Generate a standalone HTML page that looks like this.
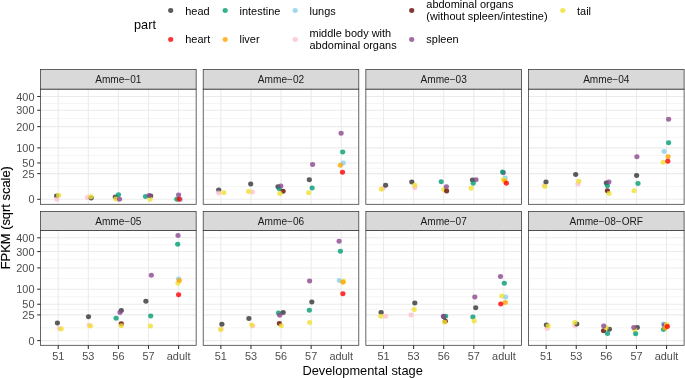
<!DOCTYPE html>
<html><head><meta charset="utf-8"><title>chart</title>
<style>html,body{margin:0;padding:0;background:#fff;}svg{display:block;}text{font-family:"Liberation Sans",sans-serif;}</style>
</head><body>
<svg width="685" height="378" viewBox="0 0 685 378">
<rect width="685" height="378" fill="#fff"/>
<g opacity="0.999">
<g>
<rect x="40.55" y="89.10" width="155.60" height="115.20" fill="#fff"/>
<line x1="40.55" x2="196.15" y1="186.45" y2="186.45" stroke="#ebebeb" stroke-width="0.55"/>
<line x1="40.55" x2="196.15" y1="168.28" y2="168.28" stroke="#ebebeb" stroke-width="0.55"/>
<line x1="40.55" x2="196.15" y1="155.43" y2="155.43" stroke="#ebebeb" stroke-width="0.55"/>
<line x1="40.55" x2="196.15" y1="137.25" y2="137.25" stroke="#ebebeb" stroke-width="0.55"/>
<line x1="40.55" x2="196.15" y1="118.44" y2="118.44" stroke="#ebebeb" stroke-width="0.55"/>
<line x1="40.55" x2="196.15" y1="103.39" y2="103.39" stroke="#ebebeb" stroke-width="0.55"/>
<line x1="40.55" x2="196.15" y1="199.30" y2="199.30" stroke="#ebebeb" stroke-width="1.07"/>
<line x1="40.55" x2="196.15" y1="173.60" y2="173.60" stroke="#ebebeb" stroke-width="1.07"/>
<line x1="40.55" x2="196.15" y1="162.95" y2="162.95" stroke="#ebebeb" stroke-width="1.07"/>
<line x1="40.55" x2="196.15" y1="147.90" y2="147.90" stroke="#ebebeb" stroke-width="1.07"/>
<line x1="40.55" x2="196.15" y1="126.61" y2="126.61" stroke="#ebebeb" stroke-width="1.07"/>
<line x1="40.55" x2="196.15" y1="110.27" y2="110.27" stroke="#ebebeb" stroke-width="1.07"/>
<line x1="40.55" x2="196.15" y1="96.50" y2="96.50" stroke="#ebebeb" stroke-width="1.07"/>
<line x1="58.20" x2="58.20" y1="89.10" y2="204.30" stroke="#ebebeb" stroke-width="1.07"/>
<line x1="88.30" x2="88.30" y1="89.10" y2="204.30" stroke="#ebebeb" stroke-width="1.07"/>
<line x1="118.40" x2="118.40" y1="89.10" y2="204.30" stroke="#ebebeb" stroke-width="1.07"/>
<line x1="148.50" x2="148.50" y1="89.10" y2="204.30" stroke="#ebebeb" stroke-width="1.07"/>
<line x1="178.60" x2="178.60" y1="89.10" y2="204.30" stroke="#ebebeb" stroke-width="1.07"/>
<ellipse cx="56.6" cy="196.1" rx="2.6" ry="2.48" fill="#333333" fill-opacity="0.8"/>
<ellipse cx="56.9" cy="199.3" rx="2.6" ry="2.48" fill="#FFC0CB" fill-opacity="0.8"/>
<ellipse cx="58.6" cy="195.3" rx="2.6" ry="2.48" fill="#F0E030" fill-opacity="0.8"/>
<ellipse cx="87.5" cy="197.4" rx="2.6" ry="2.48" fill="#FFC0CB" fill-opacity="0.8"/>
<ellipse cx="91.2" cy="198.0" rx="2.6" ry="2.48" fill="#333333" fill-opacity="0.8"/>
<ellipse cx="90.9" cy="196.8" rx="2.6" ry="2.48" fill="#F0E030" fill-opacity="0.8"/>
<ellipse cx="115.3" cy="197.1" rx="2.6" ry="2.48" fill="#333333" fill-opacity="0.8"/>
<ellipse cx="118.5" cy="194.7" rx="2.6" ry="2.48" fill="#009E73" fill-opacity="0.8"/>
<ellipse cx="115.9" cy="198.9" rx="2.6" ry="2.48" fill="#F0E030" fill-opacity="0.8"/>
<ellipse cx="119.5" cy="199.2" rx="2.6" ry="2.48" fill="#8B478F" fill-opacity="0.8"/>
<ellipse cx="150.7" cy="196.0" rx="2.6" ry="2.48" fill="#333333" fill-opacity="0.8"/>
<ellipse cx="145.5" cy="196.4" rx="2.6" ry="2.48" fill="#009E73" fill-opacity="0.8"/>
<ellipse cx="150.1" cy="199.3" rx="2.6" ry="2.48" fill="#F0E030" fill-opacity="0.8"/>
<ellipse cx="149.2" cy="195.4" rx="2.6" ry="2.48" fill="#8B478F" fill-opacity="0.8"/>
<ellipse cx="180.4" cy="199.4" rx="2.6" ry="2.48" fill="#87CEEB" fill-opacity="0.8"/>
<ellipse cx="178.6" cy="195.0" rx="2.6" ry="2.48" fill="#8B478F" fill-opacity="0.8"/>
<ellipse cx="176.8" cy="199.2" rx="2.6" ry="2.48" fill="#009E73" fill-opacity="0.8"/>
<ellipse cx="179.3" cy="199.2" rx="2.6" ry="2.48" fill="#FF0000" fill-opacity="0.8"/>
<rect x="40.55" y="89.10" width="155.60" height="115.20" fill="none" stroke="#333" stroke-width="0.75"/>
<rect x="40.55" y="69.60" width="155.60" height="19.50" fill="#d9d9d9" stroke="#333" stroke-width="0.75"/>
<text x="118.35" y="82.95" font-size="10.1" fill="#1a1a1a" text-anchor="middle">Amme−01</text>
<line x1="37.25" x2="40.55" y1="199.30" y2="199.30" stroke="#333" stroke-width="1.07"/>
<text transform="translate(34.45,203.30) scale(1.07,1)" font-size="10.2" fill="#4d4d4d" text-anchor="end">0</text>
<line x1="37.25" x2="40.55" y1="173.60" y2="173.60" stroke="#333" stroke-width="1.07"/>
<text transform="translate(34.45,177.60) scale(1.07,1)" font-size="10.2" fill="#4d4d4d" text-anchor="end">25</text>
<line x1="37.25" x2="40.55" y1="162.95" y2="162.95" stroke="#333" stroke-width="1.07"/>
<text transform="translate(34.45,166.95) scale(1.07,1)" font-size="10.2" fill="#4d4d4d" text-anchor="end">50</text>
<line x1="37.25" x2="40.55" y1="147.90" y2="147.90" stroke="#333" stroke-width="1.07"/>
<text transform="translate(34.45,151.90) scale(1.07,1)" font-size="10.2" fill="#4d4d4d" text-anchor="end">100</text>
<line x1="37.25" x2="40.55" y1="126.61" y2="126.61" stroke="#333" stroke-width="1.07"/>
<text transform="translate(34.45,130.61) scale(1.07,1)" font-size="10.2" fill="#4d4d4d" text-anchor="end">200</text>
<line x1="37.25" x2="40.55" y1="110.27" y2="110.27" stroke="#333" stroke-width="1.07"/>
<text transform="translate(34.45,114.27) scale(1.07,1)" font-size="10.2" fill="#4d4d4d" text-anchor="end">300</text>
<line x1="37.25" x2="40.55" y1="96.50" y2="96.50" stroke="#333" stroke-width="1.07"/>
<text transform="translate(34.45,100.50) scale(1.07,1)" font-size="10.2" fill="#4d4d4d" text-anchor="end">400</text>
</g>
<g>
<rect x="203.20" y="89.10" width="155.60" height="115.20" fill="#fff"/>
<line x1="203.20" x2="358.80" y1="186.45" y2="186.45" stroke="#ebebeb" stroke-width="0.55"/>
<line x1="203.20" x2="358.80" y1="168.28" y2="168.28" stroke="#ebebeb" stroke-width="0.55"/>
<line x1="203.20" x2="358.80" y1="155.43" y2="155.43" stroke="#ebebeb" stroke-width="0.55"/>
<line x1="203.20" x2="358.80" y1="137.25" y2="137.25" stroke="#ebebeb" stroke-width="0.55"/>
<line x1="203.20" x2="358.80" y1="118.44" y2="118.44" stroke="#ebebeb" stroke-width="0.55"/>
<line x1="203.20" x2="358.80" y1="103.39" y2="103.39" stroke="#ebebeb" stroke-width="0.55"/>
<line x1="203.20" x2="358.80" y1="199.30" y2="199.30" stroke="#ebebeb" stroke-width="1.07"/>
<line x1="203.20" x2="358.80" y1="173.60" y2="173.60" stroke="#ebebeb" stroke-width="1.07"/>
<line x1="203.20" x2="358.80" y1="162.95" y2="162.95" stroke="#ebebeb" stroke-width="1.07"/>
<line x1="203.20" x2="358.80" y1="147.90" y2="147.90" stroke="#ebebeb" stroke-width="1.07"/>
<line x1="203.20" x2="358.80" y1="126.61" y2="126.61" stroke="#ebebeb" stroke-width="1.07"/>
<line x1="203.20" x2="358.80" y1="110.27" y2="110.27" stroke="#ebebeb" stroke-width="1.07"/>
<line x1="203.20" x2="358.80" y1="96.50" y2="96.50" stroke="#ebebeb" stroke-width="1.07"/>
<line x1="220.85" x2="220.85" y1="89.10" y2="204.30" stroke="#ebebeb" stroke-width="1.07"/>
<line x1="250.95" x2="250.95" y1="89.10" y2="204.30" stroke="#ebebeb" stroke-width="1.07"/>
<line x1="281.05" x2="281.05" y1="89.10" y2="204.30" stroke="#ebebeb" stroke-width="1.07"/>
<line x1="311.15" x2="311.15" y1="89.10" y2="204.30" stroke="#ebebeb" stroke-width="1.07"/>
<line x1="341.25" x2="341.25" y1="89.10" y2="204.30" stroke="#ebebeb" stroke-width="1.07"/>
<ellipse cx="218.7" cy="189.9" rx="2.6" ry="2.48" fill="#333333" fill-opacity="0.8"/>
<ellipse cx="218.7" cy="192.9" rx="2.6" ry="2.48" fill="#FFC0CB" fill-opacity="0.8"/>
<ellipse cx="223.8" cy="192.7" rx="2.6" ry="2.48" fill="#F0E030" fill-opacity="0.8"/>
<ellipse cx="252.3" cy="192.0" rx="2.6" ry="2.48" fill="#FFC0CB" fill-opacity="0.8"/>
<ellipse cx="250.7" cy="184.0" rx="2.6" ry="2.48" fill="#333333" fill-opacity="0.8"/>
<ellipse cx="248.6" cy="191.5" rx="2.6" ry="2.48" fill="#F0E030" fill-opacity="0.8"/>
<ellipse cx="278.0" cy="186.8" rx="2.6" ry="2.48" fill="#333333" fill-opacity="0.8"/>
<ellipse cx="279.2" cy="188.7" rx="2.6" ry="2.48" fill="#009E73" fill-opacity="0.8"/>
<ellipse cx="280.8" cy="186.1" rx="2.6" ry="2.48" fill="#8B478F" fill-opacity="0.8"/>
<ellipse cx="283.1" cy="191.3" rx="2.6" ry="2.48" fill="#640800" fill-opacity="0.8"/>
<ellipse cx="279.9" cy="193.6" rx="2.6" ry="2.48" fill="#F0E030" fill-opacity="0.8"/>
<ellipse cx="312.6" cy="164.4" rx="2.6" ry="2.48" fill="#8B478F" fill-opacity="0.8"/>
<ellipse cx="309.3" cy="179.8" rx="2.6" ry="2.48" fill="#333333" fill-opacity="0.8"/>
<ellipse cx="312.1" cy="188.0" rx="2.6" ry="2.48" fill="#009E73" fill-opacity="0.8"/>
<ellipse cx="308.6" cy="192.7" rx="2.6" ry="2.48" fill="#F0E030" fill-opacity="0.8"/>
<ellipse cx="341.1" cy="133.3" rx="2.6" ry="2.48" fill="#8B478F" fill-opacity="0.8"/>
<ellipse cx="342.7" cy="152.0" rx="2.6" ry="2.48" fill="#009E73" fill-opacity="0.8"/>
<ellipse cx="343.2" cy="163.0" rx="2.6" ry="2.48" fill="#87CEEB" fill-opacity="0.8"/>
<ellipse cx="340.4" cy="165.3" rx="2.6" ry="2.48" fill="#FFA500" fill-opacity="0.8"/>
<ellipse cx="342.5" cy="172.3" rx="2.6" ry="2.48" fill="#FF0000" fill-opacity="0.8"/>
<rect x="203.20" y="89.10" width="155.60" height="115.20" fill="none" stroke="#333" stroke-width="0.75"/>
<rect x="203.20" y="69.60" width="155.60" height="19.50" fill="#d9d9d9" stroke="#333" stroke-width="0.75"/>
<text x="281.00" y="82.95" font-size="10.1" fill="#1a1a1a" text-anchor="middle">Amme−02</text>
</g>
<g>
<rect x="365.85" y="89.10" width="155.60" height="115.20" fill="#fff"/>
<line x1="365.85" x2="521.45" y1="186.45" y2="186.45" stroke="#ebebeb" stroke-width="0.55"/>
<line x1="365.85" x2="521.45" y1="168.28" y2="168.28" stroke="#ebebeb" stroke-width="0.55"/>
<line x1="365.85" x2="521.45" y1="155.43" y2="155.43" stroke="#ebebeb" stroke-width="0.55"/>
<line x1="365.85" x2="521.45" y1="137.25" y2="137.25" stroke="#ebebeb" stroke-width="0.55"/>
<line x1="365.85" x2="521.45" y1="118.44" y2="118.44" stroke="#ebebeb" stroke-width="0.55"/>
<line x1="365.85" x2="521.45" y1="103.39" y2="103.39" stroke="#ebebeb" stroke-width="0.55"/>
<line x1="365.85" x2="521.45" y1="199.30" y2="199.30" stroke="#ebebeb" stroke-width="1.07"/>
<line x1="365.85" x2="521.45" y1="173.60" y2="173.60" stroke="#ebebeb" stroke-width="1.07"/>
<line x1="365.85" x2="521.45" y1="162.95" y2="162.95" stroke="#ebebeb" stroke-width="1.07"/>
<line x1="365.85" x2="521.45" y1="147.90" y2="147.90" stroke="#ebebeb" stroke-width="1.07"/>
<line x1="365.85" x2="521.45" y1="126.61" y2="126.61" stroke="#ebebeb" stroke-width="1.07"/>
<line x1="365.85" x2="521.45" y1="110.27" y2="110.27" stroke="#ebebeb" stroke-width="1.07"/>
<line x1="365.85" x2="521.45" y1="96.50" y2="96.50" stroke="#ebebeb" stroke-width="1.07"/>
<line x1="383.50" x2="383.50" y1="89.10" y2="204.30" stroke="#ebebeb" stroke-width="1.07"/>
<line x1="413.60" x2="413.60" y1="89.10" y2="204.30" stroke="#ebebeb" stroke-width="1.07"/>
<line x1="443.70" x2="443.70" y1="89.10" y2="204.30" stroke="#ebebeb" stroke-width="1.07"/>
<line x1="473.80" x2="473.80" y1="89.10" y2="204.30" stroke="#ebebeb" stroke-width="1.07"/>
<line x1="503.90" x2="503.90" y1="89.10" y2="204.30" stroke="#ebebeb" stroke-width="1.07"/>
<ellipse cx="383.3" cy="188.2" rx="2.6" ry="2.48" fill="#FFC0CB" fill-opacity="0.8"/>
<ellipse cx="385.6" cy="185.2" rx="2.6" ry="2.48" fill="#333333" fill-opacity="0.8"/>
<ellipse cx="381.4" cy="189.2" rx="2.6" ry="2.48" fill="#F0E030" fill-opacity="0.8"/>
<ellipse cx="414.8" cy="187.8" rx="2.6" ry="2.48" fill="#FFC0CB" fill-opacity="0.8"/>
<ellipse cx="411.8" cy="181.9" rx="2.6" ry="2.48" fill="#333333" fill-opacity="0.8"/>
<ellipse cx="414.8" cy="185.2" rx="2.6" ry="2.48" fill="#F0E030" fill-opacity="0.8"/>
<ellipse cx="441.2" cy="181.7" rx="2.6" ry="2.48" fill="#009E73" fill-opacity="0.8"/>
<ellipse cx="443.8" cy="189.4" rx="2.6" ry="2.48" fill="#F0E030" fill-opacity="0.8"/>
<ellipse cx="446.6" cy="191.0" rx="2.6" ry="2.48" fill="#640800" fill-opacity="0.8"/>
<ellipse cx="446.4" cy="186.8" rx="2.6" ry="2.48" fill="#8B478F" fill-opacity="0.8"/>
<ellipse cx="472.5" cy="180.0" rx="2.6" ry="2.48" fill="#333333" fill-opacity="0.8"/>
<ellipse cx="476.0" cy="179.8" rx="2.6" ry="2.48" fill="#8B478F" fill-opacity="0.8"/>
<ellipse cx="473.2" cy="183.3" rx="2.6" ry="2.48" fill="#009E73" fill-opacity="0.8"/>
<ellipse cx="471.1" cy="188.2" rx="2.6" ry="2.48" fill="#F0E030" fill-opacity="0.8"/>
<ellipse cx="503.3" cy="172.8" rx="2.6" ry="2.48" fill="#8B478F" fill-opacity="0.8"/>
<ellipse cx="502.6" cy="171.9" rx="2.6" ry="2.48" fill="#009E73" fill-opacity="0.8"/>
<ellipse cx="505.2" cy="178.1" rx="2.6" ry="2.48" fill="#87CEEB" fill-opacity="0.8"/>
<ellipse cx="503.3" cy="179.4" rx="2.6" ry="2.48" fill="#F0E030" fill-opacity="0.8"/>
<ellipse cx="504.9" cy="181.3" rx="2.6" ry="2.48" fill="#FFA500" fill-opacity="0.8"/>
<ellipse cx="506.4" cy="183.3" rx="2.6" ry="2.48" fill="#FF0000" fill-opacity="0.8"/>
<rect x="365.85" y="89.10" width="155.60" height="115.20" fill="none" stroke="#333" stroke-width="0.75"/>
<rect x="365.85" y="69.60" width="155.60" height="19.50" fill="#d9d9d9" stroke="#333" stroke-width="0.75"/>
<text x="443.65" y="82.95" font-size="10.1" fill="#1a1a1a" text-anchor="middle">Amme−03</text>
</g>
<g>
<rect x="528.50" y="89.10" width="155.60" height="115.20" fill="#fff"/>
<line x1="528.50" x2="684.10" y1="186.45" y2="186.45" stroke="#ebebeb" stroke-width="0.55"/>
<line x1="528.50" x2="684.10" y1="168.28" y2="168.28" stroke="#ebebeb" stroke-width="0.55"/>
<line x1="528.50" x2="684.10" y1="155.43" y2="155.43" stroke="#ebebeb" stroke-width="0.55"/>
<line x1="528.50" x2="684.10" y1="137.25" y2="137.25" stroke="#ebebeb" stroke-width="0.55"/>
<line x1="528.50" x2="684.10" y1="118.44" y2="118.44" stroke="#ebebeb" stroke-width="0.55"/>
<line x1="528.50" x2="684.10" y1="103.39" y2="103.39" stroke="#ebebeb" stroke-width="0.55"/>
<line x1="528.50" x2="684.10" y1="199.30" y2="199.30" stroke="#ebebeb" stroke-width="1.07"/>
<line x1="528.50" x2="684.10" y1="173.60" y2="173.60" stroke="#ebebeb" stroke-width="1.07"/>
<line x1="528.50" x2="684.10" y1="162.95" y2="162.95" stroke="#ebebeb" stroke-width="1.07"/>
<line x1="528.50" x2="684.10" y1="147.90" y2="147.90" stroke="#ebebeb" stroke-width="1.07"/>
<line x1="528.50" x2="684.10" y1="126.61" y2="126.61" stroke="#ebebeb" stroke-width="1.07"/>
<line x1="528.50" x2="684.10" y1="110.27" y2="110.27" stroke="#ebebeb" stroke-width="1.07"/>
<line x1="528.50" x2="684.10" y1="96.50" y2="96.50" stroke="#ebebeb" stroke-width="1.07"/>
<line x1="546.15" x2="546.15" y1="89.10" y2="204.30" stroke="#ebebeb" stroke-width="1.07"/>
<line x1="576.25" x2="576.25" y1="89.10" y2="204.30" stroke="#ebebeb" stroke-width="1.07"/>
<line x1="606.35" x2="606.35" y1="89.10" y2="204.30" stroke="#ebebeb" stroke-width="1.07"/>
<line x1="636.45" x2="636.45" y1="89.10" y2="204.30" stroke="#ebebeb" stroke-width="1.07"/>
<line x1="666.55" x2="666.55" y1="89.10" y2="204.30" stroke="#ebebeb" stroke-width="1.07"/>
<ellipse cx="544.4" cy="185.2" rx="2.6" ry="2.48" fill="#FFC0CB" fill-opacity="0.8"/>
<ellipse cx="546.0" cy="181.9" rx="2.6" ry="2.48" fill="#333333" fill-opacity="0.8"/>
<ellipse cx="544.8" cy="186.4" rx="2.6" ry="2.48" fill="#F0E030" fill-opacity="0.8"/>
<ellipse cx="578.0" cy="184.1" rx="2.6" ry="2.48" fill="#FFC0CB" fill-opacity="0.8"/>
<ellipse cx="575.7" cy="174.5" rx="2.6" ry="2.48" fill="#333333" fill-opacity="0.8"/>
<ellipse cx="578.8" cy="181.3" rx="2.6" ry="2.48" fill="#F0E030" fill-opacity="0.8"/>
<ellipse cx="606.3" cy="183.0" rx="2.6" ry="2.48" fill="#333333" fill-opacity="0.8"/>
<ellipse cx="607.4" cy="185.8" rx="2.6" ry="2.48" fill="#009E73" fill-opacity="0.8"/>
<ellipse cx="608.9" cy="181.9" rx="2.6" ry="2.48" fill="#8B478F" fill-opacity="0.8"/>
<ellipse cx="607.4" cy="190.7" rx="2.6" ry="2.48" fill="#640800" fill-opacity="0.8"/>
<ellipse cx="609.1" cy="193.5" rx="2.6" ry="2.48" fill="#F0E030" fill-opacity="0.8"/>
<ellipse cx="636.9" cy="156.7" rx="2.6" ry="2.48" fill="#8B478F" fill-opacity="0.8"/>
<ellipse cx="636.6" cy="175.4" rx="2.6" ry="2.48" fill="#333333" fill-opacity="0.8"/>
<ellipse cx="638.0" cy="183.6" rx="2.6" ry="2.48" fill="#009E73" fill-opacity="0.8"/>
<ellipse cx="634.1" cy="190.7" rx="2.6" ry="2.48" fill="#F0E030" fill-opacity="0.8"/>
<ellipse cx="668.6" cy="119.3" rx="2.6" ry="2.48" fill="#8B478F" fill-opacity="0.8"/>
<ellipse cx="668.6" cy="142.8" rx="2.6" ry="2.48" fill="#009E73" fill-opacity="0.8"/>
<ellipse cx="664.1" cy="151.6" rx="2.6" ry="2.48" fill="#87CEEB" fill-opacity="0.8"/>
<ellipse cx="663.2" cy="162.3" rx="2.6" ry="2.48" fill="#F0E030" fill-opacity="0.8"/>
<ellipse cx="668.1" cy="156.7" rx="2.6" ry="2.48" fill="#FFA500" fill-opacity="0.8"/>
<ellipse cx="667.8" cy="161.2" rx="2.6" ry="2.48" fill="#FF0000" fill-opacity="0.8"/>
<rect x="528.50" y="89.10" width="155.60" height="115.20" fill="none" stroke="#333" stroke-width="0.75"/>
<rect x="528.50" y="69.60" width="155.60" height="19.50" fill="#d9d9d9" stroke="#333" stroke-width="0.75"/>
<text x="606.30" y="82.95" font-size="10.1" fill="#1a1a1a" text-anchor="middle">Amme−04</text>
</g>
<g>
<rect x="40.55" y="230.50" width="155.60" height="114.80" fill="#fff"/>
<line x1="40.55" x2="196.15" y1="327.75" y2="327.75" stroke="#ebebeb" stroke-width="0.55"/>
<line x1="40.55" x2="196.15" y1="309.58" y2="309.58" stroke="#ebebeb" stroke-width="0.55"/>
<line x1="40.55" x2="196.15" y1="296.73" y2="296.73" stroke="#ebebeb" stroke-width="0.55"/>
<line x1="40.55" x2="196.15" y1="278.55" y2="278.55" stroke="#ebebeb" stroke-width="0.55"/>
<line x1="40.55" x2="196.15" y1="259.74" y2="259.74" stroke="#ebebeb" stroke-width="0.55"/>
<line x1="40.55" x2="196.15" y1="244.69" y2="244.69" stroke="#ebebeb" stroke-width="0.55"/>
<line x1="40.55" x2="196.15" y1="340.60" y2="340.60" stroke="#ebebeb" stroke-width="1.07"/>
<line x1="40.55" x2="196.15" y1="314.90" y2="314.90" stroke="#ebebeb" stroke-width="1.07"/>
<line x1="40.55" x2="196.15" y1="304.25" y2="304.25" stroke="#ebebeb" stroke-width="1.07"/>
<line x1="40.55" x2="196.15" y1="289.20" y2="289.20" stroke="#ebebeb" stroke-width="1.07"/>
<line x1="40.55" x2="196.15" y1="267.91" y2="267.91" stroke="#ebebeb" stroke-width="1.07"/>
<line x1="40.55" x2="196.15" y1="251.57" y2="251.57" stroke="#ebebeb" stroke-width="1.07"/>
<line x1="40.55" x2="196.15" y1="237.80" y2="237.80" stroke="#ebebeb" stroke-width="1.07"/>
<line x1="58.20" x2="58.20" y1="230.50" y2="345.30" stroke="#ebebeb" stroke-width="1.07"/>
<line x1="88.30" x2="88.30" y1="230.50" y2="345.30" stroke="#ebebeb" stroke-width="1.07"/>
<line x1="118.40" x2="118.40" y1="230.50" y2="345.30" stroke="#ebebeb" stroke-width="1.07"/>
<line x1="148.50" x2="148.50" y1="230.50" y2="345.30" stroke="#ebebeb" stroke-width="1.07"/>
<line x1="178.60" x2="178.60" y1="230.50" y2="345.30" stroke="#ebebeb" stroke-width="1.07"/>
<ellipse cx="59.4" cy="328.5" rx="2.6" ry="2.48" fill="#FFC0CB" fill-opacity="0.8"/>
<ellipse cx="57.4" cy="323.1" rx="2.6" ry="2.48" fill="#333333" fill-opacity="0.8"/>
<ellipse cx="61.2" cy="329.1" rx="2.6" ry="2.48" fill="#F0E030" fill-opacity="0.8"/>
<ellipse cx="89.1" cy="325.3" rx="2.6" ry="2.48" fill="#FFC0CB" fill-opacity="0.8"/>
<ellipse cx="88.5" cy="316.7" rx="2.6" ry="2.48" fill="#333333" fill-opacity="0.8"/>
<ellipse cx="90.5" cy="326.1" rx="2.6" ry="2.48" fill="#F0E030" fill-opacity="0.8"/>
<ellipse cx="121.3" cy="310.6" rx="2.6" ry="2.48" fill="#333333" fill-opacity="0.8"/>
<ellipse cx="120.0" cy="312.6" rx="2.6" ry="2.48" fill="#8B478F" fill-opacity="0.8"/>
<ellipse cx="116.1" cy="318.3" rx="2.6" ry="2.48" fill="#009E73" fill-opacity="0.8"/>
<ellipse cx="121.3" cy="323.7" rx="2.6" ry="2.48" fill="#640800" fill-opacity="0.8"/>
<ellipse cx="121.3" cy="325.8" rx="2.6" ry="2.48" fill="#F0E030" fill-opacity="0.8"/>
<ellipse cx="151.3" cy="275.3" rx="2.6" ry="2.48" fill="#8B478F" fill-opacity="0.8"/>
<ellipse cx="145.9" cy="301.3" rx="2.6" ry="2.48" fill="#333333" fill-opacity="0.8"/>
<ellipse cx="150.7" cy="315.9" rx="2.6" ry="2.48" fill="#009E73" fill-opacity="0.8"/>
<ellipse cx="150.4" cy="326.1" rx="2.6" ry="2.48" fill="#F0E030" fill-opacity="0.8"/>
<ellipse cx="178.0" cy="235.6" rx="2.6" ry="2.48" fill="#8B478F" fill-opacity="0.8"/>
<ellipse cx="177.7" cy="244.2" rx="2.6" ry="2.48" fill="#009E73" fill-opacity="0.8"/>
<ellipse cx="178.6" cy="279.0" rx="2.6" ry="2.48" fill="#87CEEB" fill-opacity="0.8"/>
<ellipse cx="178.0" cy="283.2" rx="2.6" ry="2.48" fill="#F0E030" fill-opacity="0.8"/>
<ellipse cx="179.3" cy="280.4" rx="2.6" ry="2.48" fill="#FFA500" fill-opacity="0.8"/>
<ellipse cx="178.6" cy="294.7" rx="2.6" ry="2.48" fill="#FF0000" fill-opacity="0.8"/>
<rect x="40.55" y="230.50" width="155.60" height="114.80" fill="none" stroke="#333" stroke-width="0.75"/>
<rect x="40.55" y="211.50" width="155.60" height="19.00" fill="#d9d9d9" stroke="#333" stroke-width="0.75"/>
<text x="118.35" y="224.60" font-size="10.1" fill="#1a1a1a" text-anchor="middle">Amme−05</text>
<line x1="37.25" x2="40.55" y1="340.60" y2="340.60" stroke="#333" stroke-width="1.07"/>
<text transform="translate(34.45,344.60) scale(1.07,1)" font-size="10.2" fill="#4d4d4d" text-anchor="end">0</text>
<line x1="37.25" x2="40.55" y1="314.90" y2="314.90" stroke="#333" stroke-width="1.07"/>
<text transform="translate(34.45,318.90) scale(1.07,1)" font-size="10.2" fill="#4d4d4d" text-anchor="end">25</text>
<line x1="37.25" x2="40.55" y1="304.25" y2="304.25" stroke="#333" stroke-width="1.07"/>
<text transform="translate(34.45,308.25) scale(1.07,1)" font-size="10.2" fill="#4d4d4d" text-anchor="end">50</text>
<line x1="37.25" x2="40.55" y1="289.20" y2="289.20" stroke="#333" stroke-width="1.07"/>
<text transform="translate(34.45,293.20) scale(1.07,1)" font-size="10.2" fill="#4d4d4d" text-anchor="end">100</text>
<line x1="37.25" x2="40.55" y1="267.91" y2="267.91" stroke="#333" stroke-width="1.07"/>
<text transform="translate(34.45,271.91) scale(1.07,1)" font-size="10.2" fill="#4d4d4d" text-anchor="end">200</text>
<line x1="37.25" x2="40.55" y1="251.57" y2="251.57" stroke="#333" stroke-width="1.07"/>
<text transform="translate(34.45,255.57) scale(1.07,1)" font-size="10.2" fill="#4d4d4d" text-anchor="end">300</text>
<line x1="37.25" x2="40.55" y1="237.80" y2="237.80" stroke="#333" stroke-width="1.07"/>
<text transform="translate(34.45,241.80) scale(1.07,1)" font-size="10.2" fill="#4d4d4d" text-anchor="end">400</text>
<line x1="58.20" x2="58.20" y1="345.30" y2="348.90" stroke="#333" stroke-width="1.07"/>
<text transform="translate(58.20,359.70) scale(1.07,1)" font-size="10.2" fill="#4d4d4d" text-anchor="middle">51</text>
<line x1="88.30" x2="88.30" y1="345.30" y2="348.90" stroke="#333" stroke-width="1.07"/>
<text transform="translate(88.30,359.70) scale(1.07,1)" font-size="10.2" fill="#4d4d4d" text-anchor="middle">53</text>
<line x1="118.40" x2="118.40" y1="345.30" y2="348.90" stroke="#333" stroke-width="1.07"/>
<text transform="translate(118.40,359.70) scale(1.07,1)" font-size="10.2" fill="#4d4d4d" text-anchor="middle">56</text>
<line x1="148.50" x2="148.50" y1="345.30" y2="348.90" stroke="#333" stroke-width="1.07"/>
<text transform="translate(148.50,359.70) scale(1.07,1)" font-size="10.2" fill="#4d4d4d" text-anchor="middle">57</text>
<line x1="178.60" x2="178.60" y1="345.30" y2="348.90" stroke="#333" stroke-width="1.07"/>
<text transform="translate(178.60,359.70) scale(1.07,1)" font-size="10.2" fill="#4d4d4d" text-anchor="middle">adult</text>
</g>
<g>
<rect x="203.20" y="230.50" width="155.60" height="114.80" fill="#fff"/>
<line x1="203.20" x2="358.80" y1="327.75" y2="327.75" stroke="#ebebeb" stroke-width="0.55"/>
<line x1="203.20" x2="358.80" y1="309.58" y2="309.58" stroke="#ebebeb" stroke-width="0.55"/>
<line x1="203.20" x2="358.80" y1="296.73" y2="296.73" stroke="#ebebeb" stroke-width="0.55"/>
<line x1="203.20" x2="358.80" y1="278.55" y2="278.55" stroke="#ebebeb" stroke-width="0.55"/>
<line x1="203.20" x2="358.80" y1="259.74" y2="259.74" stroke="#ebebeb" stroke-width="0.55"/>
<line x1="203.20" x2="358.80" y1="244.69" y2="244.69" stroke="#ebebeb" stroke-width="0.55"/>
<line x1="203.20" x2="358.80" y1="340.60" y2="340.60" stroke="#ebebeb" stroke-width="1.07"/>
<line x1="203.20" x2="358.80" y1="314.90" y2="314.90" stroke="#ebebeb" stroke-width="1.07"/>
<line x1="203.20" x2="358.80" y1="304.25" y2="304.25" stroke="#ebebeb" stroke-width="1.07"/>
<line x1="203.20" x2="358.80" y1="289.20" y2="289.20" stroke="#ebebeb" stroke-width="1.07"/>
<line x1="203.20" x2="358.80" y1="267.91" y2="267.91" stroke="#ebebeb" stroke-width="1.07"/>
<line x1="203.20" x2="358.80" y1="251.57" y2="251.57" stroke="#ebebeb" stroke-width="1.07"/>
<line x1="203.20" x2="358.80" y1="237.80" y2="237.80" stroke="#ebebeb" stroke-width="1.07"/>
<line x1="220.85" x2="220.85" y1="230.50" y2="345.30" stroke="#ebebeb" stroke-width="1.07"/>
<line x1="250.95" x2="250.95" y1="230.50" y2="345.30" stroke="#ebebeb" stroke-width="1.07"/>
<line x1="281.05" x2="281.05" y1="230.50" y2="345.30" stroke="#ebebeb" stroke-width="1.07"/>
<line x1="311.15" x2="311.15" y1="230.50" y2="345.30" stroke="#ebebeb" stroke-width="1.07"/>
<line x1="341.25" x2="341.25" y1="230.50" y2="345.30" stroke="#ebebeb" stroke-width="1.07"/>
<ellipse cx="221.0" cy="329.2" rx="2.6" ry="2.48" fill="#FFC0CB" fill-opacity="0.8"/>
<ellipse cx="221.9" cy="324.2" rx="2.6" ry="2.48" fill="#333333" fill-opacity="0.8"/>
<ellipse cx="220.7" cy="329.6" rx="2.6" ry="2.48" fill="#F0E030" fill-opacity="0.8"/>
<ellipse cx="252.7" cy="326.1" rx="2.6" ry="2.48" fill="#FFC0CB" fill-opacity="0.8"/>
<ellipse cx="248.9" cy="318.5" rx="2.6" ry="2.48" fill="#333333" fill-opacity="0.8"/>
<ellipse cx="251.8" cy="325.1" rx="2.6" ry="2.48" fill="#F0E030" fill-opacity="0.8"/>
<ellipse cx="278.5" cy="313.1" rx="2.6" ry="2.48" fill="#009E73" fill-opacity="0.8"/>
<ellipse cx="283.2" cy="312.4" rx="2.6" ry="2.48" fill="#333333" fill-opacity="0.8"/>
<ellipse cx="279.7" cy="315.3" rx="2.6" ry="2.48" fill="#8B478F" fill-opacity="0.8"/>
<ellipse cx="279.4" cy="323.6" rx="2.6" ry="2.48" fill="#640800" fill-opacity="0.8"/>
<ellipse cx="281.3" cy="325.8" rx="2.6" ry="2.48" fill="#F0E030" fill-opacity="0.8"/>
<ellipse cx="309.6" cy="281.0" rx="2.6" ry="2.48" fill="#8B478F" fill-opacity="0.8"/>
<ellipse cx="311.8" cy="302.0" rx="2.6" ry="2.48" fill="#333333" fill-opacity="0.8"/>
<ellipse cx="309.3" cy="310.2" rx="2.6" ry="2.48" fill="#009E73" fill-opacity="0.8"/>
<ellipse cx="309.6" cy="322.6" rx="2.6" ry="2.48" fill="#F0E030" fill-opacity="0.8"/>
<ellipse cx="339.1" cy="241.3" rx="2.6" ry="2.48" fill="#8B478F" fill-opacity="0.8"/>
<ellipse cx="340.4" cy="251.2" rx="2.6" ry="2.48" fill="#009E73" fill-opacity="0.8"/>
<ellipse cx="339.4" cy="280.4" rx="2.6" ry="2.48" fill="#87CEEB" fill-opacity="0.8"/>
<ellipse cx="343.5" cy="281.3" rx="2.6" ry="2.48" fill="#F0E030" fill-opacity="0.8"/>
<ellipse cx="342.9" cy="282.3" rx="2.6" ry="2.48" fill="#FFA500" fill-opacity="0.8"/>
<ellipse cx="342.9" cy="293.7" rx="2.6" ry="2.48" fill="#FF0000" fill-opacity="0.8"/>
<rect x="203.20" y="230.50" width="155.60" height="114.80" fill="none" stroke="#333" stroke-width="0.75"/>
<rect x="203.20" y="211.50" width="155.60" height="19.00" fill="#d9d9d9" stroke="#333" stroke-width="0.75"/>
<text x="281.00" y="224.60" font-size="10.1" fill="#1a1a1a" text-anchor="middle">Amme−06</text>
<line x1="220.85" x2="220.85" y1="345.30" y2="348.90" stroke="#333" stroke-width="1.07"/>
<text transform="translate(220.85,359.70) scale(1.07,1)" font-size="10.2" fill="#4d4d4d" text-anchor="middle">51</text>
<line x1="250.95" x2="250.95" y1="345.30" y2="348.90" stroke="#333" stroke-width="1.07"/>
<text transform="translate(250.95,359.70) scale(1.07,1)" font-size="10.2" fill="#4d4d4d" text-anchor="middle">53</text>
<line x1="281.05" x2="281.05" y1="345.30" y2="348.90" stroke="#333" stroke-width="1.07"/>
<text transform="translate(281.05,359.70) scale(1.07,1)" font-size="10.2" fill="#4d4d4d" text-anchor="middle">56</text>
<line x1="311.15" x2="311.15" y1="345.30" y2="348.90" stroke="#333" stroke-width="1.07"/>
<text transform="translate(311.15,359.70) scale(1.07,1)" font-size="10.2" fill="#4d4d4d" text-anchor="middle">57</text>
<line x1="341.25" x2="341.25" y1="345.30" y2="348.90" stroke="#333" stroke-width="1.07"/>
<text transform="translate(341.25,359.70) scale(1.07,1)" font-size="10.2" fill="#4d4d4d" text-anchor="middle">adult</text>
</g>
<g>
<rect x="365.85" y="230.50" width="155.60" height="114.80" fill="#fff"/>
<line x1="365.85" x2="521.45" y1="327.75" y2="327.75" stroke="#ebebeb" stroke-width="0.55"/>
<line x1="365.85" x2="521.45" y1="309.58" y2="309.58" stroke="#ebebeb" stroke-width="0.55"/>
<line x1="365.85" x2="521.45" y1="296.73" y2="296.73" stroke="#ebebeb" stroke-width="0.55"/>
<line x1="365.85" x2="521.45" y1="278.55" y2="278.55" stroke="#ebebeb" stroke-width="0.55"/>
<line x1="365.85" x2="521.45" y1="259.74" y2="259.74" stroke="#ebebeb" stroke-width="0.55"/>
<line x1="365.85" x2="521.45" y1="244.69" y2="244.69" stroke="#ebebeb" stroke-width="0.55"/>
<line x1="365.85" x2="521.45" y1="340.60" y2="340.60" stroke="#ebebeb" stroke-width="1.07"/>
<line x1="365.85" x2="521.45" y1="314.90" y2="314.90" stroke="#ebebeb" stroke-width="1.07"/>
<line x1="365.85" x2="521.45" y1="304.25" y2="304.25" stroke="#ebebeb" stroke-width="1.07"/>
<line x1="365.85" x2="521.45" y1="289.20" y2="289.20" stroke="#ebebeb" stroke-width="1.07"/>
<line x1="365.85" x2="521.45" y1="267.91" y2="267.91" stroke="#ebebeb" stroke-width="1.07"/>
<line x1="365.85" x2="521.45" y1="251.57" y2="251.57" stroke="#ebebeb" stroke-width="1.07"/>
<line x1="365.85" x2="521.45" y1="237.80" y2="237.80" stroke="#ebebeb" stroke-width="1.07"/>
<line x1="383.50" x2="383.50" y1="230.50" y2="345.30" stroke="#ebebeb" stroke-width="1.07"/>
<line x1="413.60" x2="413.60" y1="230.50" y2="345.30" stroke="#ebebeb" stroke-width="1.07"/>
<line x1="443.70" x2="443.70" y1="230.50" y2="345.30" stroke="#ebebeb" stroke-width="1.07"/>
<line x1="473.80" x2="473.80" y1="230.50" y2="345.30" stroke="#ebebeb" stroke-width="1.07"/>
<line x1="503.90" x2="503.90" y1="230.50" y2="345.30" stroke="#ebebeb" stroke-width="1.07"/>
<ellipse cx="385.6" cy="316.3" rx="2.6" ry="2.48" fill="#FFC0CB" fill-opacity="0.8"/>
<ellipse cx="381.1" cy="312.4" rx="2.6" ry="2.48" fill="#333333" fill-opacity="0.8"/>
<ellipse cx="380.8" cy="316.3" rx="2.6" ry="2.48" fill="#F0E030" fill-opacity="0.8"/>
<ellipse cx="411.0" cy="315.0" rx="2.6" ry="2.48" fill="#FFC0CB" fill-opacity="0.8"/>
<ellipse cx="414.8" cy="302.9" rx="2.6" ry="2.48" fill="#333333" fill-opacity="0.8"/>
<ellipse cx="414.2" cy="309.5" rx="2.6" ry="2.48" fill="#F0E030" fill-opacity="0.8"/>
<ellipse cx="443.8" cy="316.8" rx="2.6" ry="2.48" fill="#333333" fill-opacity="0.8"/>
<ellipse cx="445.6" cy="316.3" rx="2.6" ry="2.48" fill="#009E73" fill-opacity="0.8"/>
<ellipse cx="443.4" cy="316.3" rx="2.6" ry="2.48" fill="#8B478F" fill-opacity="0.8"/>
<ellipse cx="445.3" cy="321.3" rx="2.6" ry="2.48" fill="#640800" fill-opacity="0.8"/>
<ellipse cx="444.6" cy="322.3" rx="2.6" ry="2.48" fill="#F0E030" fill-opacity="0.8"/>
<ellipse cx="474.8" cy="296.9" rx="2.6" ry="2.48" fill="#8B478F" fill-opacity="0.8"/>
<ellipse cx="475.7" cy="307.7" rx="2.6" ry="2.48" fill="#333333" fill-opacity="0.8"/>
<ellipse cx="472.9" cy="316.9" rx="2.6" ry="2.48" fill="#009E73" fill-opacity="0.8"/>
<ellipse cx="474.2" cy="321.0" rx="2.6" ry="2.48" fill="#F0E030" fill-opacity="0.8"/>
<ellipse cx="500.5" cy="276.6" rx="2.6" ry="2.48" fill="#8B478F" fill-opacity="0.8"/>
<ellipse cx="504.3" cy="283.2" rx="2.6" ry="2.48" fill="#009E73" fill-opacity="0.8"/>
<ellipse cx="505.6" cy="296.9" rx="2.6" ry="2.48" fill="#87CEEB" fill-opacity="0.8"/>
<ellipse cx="501.8" cy="295.9" rx="2.6" ry="2.48" fill="#F0E030" fill-opacity="0.8"/>
<ellipse cx="505.3" cy="302.6" rx="2.6" ry="2.48" fill="#FFA500" fill-opacity="0.8"/>
<ellipse cx="500.8" cy="303.9" rx="2.6" ry="2.48" fill="#FF0000" fill-opacity="0.8"/>
<rect x="365.85" y="230.50" width="155.60" height="114.80" fill="none" stroke="#333" stroke-width="0.75"/>
<rect x="365.85" y="211.50" width="155.60" height="19.00" fill="#d9d9d9" stroke="#333" stroke-width="0.75"/>
<text x="443.65" y="224.60" font-size="10.1" fill="#1a1a1a" text-anchor="middle">Amme−07</text>
<line x1="383.50" x2="383.50" y1="345.30" y2="348.90" stroke="#333" stroke-width="1.07"/>
<text transform="translate(383.50,359.70) scale(1.07,1)" font-size="10.2" fill="#4d4d4d" text-anchor="middle">51</text>
<line x1="413.60" x2="413.60" y1="345.30" y2="348.90" stroke="#333" stroke-width="1.07"/>
<text transform="translate(413.60,359.70) scale(1.07,1)" font-size="10.2" fill="#4d4d4d" text-anchor="middle">53</text>
<line x1="443.70" x2="443.70" y1="345.30" y2="348.90" stroke="#333" stroke-width="1.07"/>
<text transform="translate(443.70,359.70) scale(1.07,1)" font-size="10.2" fill="#4d4d4d" text-anchor="middle">56</text>
<line x1="473.80" x2="473.80" y1="345.30" y2="348.90" stroke="#333" stroke-width="1.07"/>
<text transform="translate(473.80,359.70) scale(1.07,1)" font-size="10.2" fill="#4d4d4d" text-anchor="middle">57</text>
<line x1="503.90" x2="503.90" y1="345.30" y2="348.90" stroke="#333" stroke-width="1.07"/>
<text transform="translate(503.90,359.70) scale(1.07,1)" font-size="10.2" fill="#4d4d4d" text-anchor="middle">adult</text>
</g>
<g>
<rect x="528.50" y="230.50" width="155.60" height="114.80" fill="#fff"/>
<line x1="528.50" x2="684.10" y1="327.75" y2="327.75" stroke="#ebebeb" stroke-width="0.55"/>
<line x1="528.50" x2="684.10" y1="309.58" y2="309.58" stroke="#ebebeb" stroke-width="0.55"/>
<line x1="528.50" x2="684.10" y1="296.73" y2="296.73" stroke="#ebebeb" stroke-width="0.55"/>
<line x1="528.50" x2="684.10" y1="278.55" y2="278.55" stroke="#ebebeb" stroke-width="0.55"/>
<line x1="528.50" x2="684.10" y1="259.74" y2="259.74" stroke="#ebebeb" stroke-width="0.55"/>
<line x1="528.50" x2="684.10" y1="244.69" y2="244.69" stroke="#ebebeb" stroke-width="0.55"/>
<line x1="528.50" x2="684.10" y1="340.60" y2="340.60" stroke="#ebebeb" stroke-width="1.07"/>
<line x1="528.50" x2="684.10" y1="314.90" y2="314.90" stroke="#ebebeb" stroke-width="1.07"/>
<line x1="528.50" x2="684.10" y1="304.25" y2="304.25" stroke="#ebebeb" stroke-width="1.07"/>
<line x1="528.50" x2="684.10" y1="289.20" y2="289.20" stroke="#ebebeb" stroke-width="1.07"/>
<line x1="528.50" x2="684.10" y1="267.91" y2="267.91" stroke="#ebebeb" stroke-width="1.07"/>
<line x1="528.50" x2="684.10" y1="251.57" y2="251.57" stroke="#ebebeb" stroke-width="1.07"/>
<line x1="528.50" x2="684.10" y1="237.80" y2="237.80" stroke="#ebebeb" stroke-width="1.07"/>
<line x1="546.15" x2="546.15" y1="230.50" y2="345.30" stroke="#ebebeb" stroke-width="1.07"/>
<line x1="576.25" x2="576.25" y1="230.50" y2="345.30" stroke="#ebebeb" stroke-width="1.07"/>
<line x1="606.35" x2="606.35" y1="230.50" y2="345.30" stroke="#ebebeb" stroke-width="1.07"/>
<line x1="636.45" x2="636.45" y1="230.50" y2="345.30" stroke="#ebebeb" stroke-width="1.07"/>
<line x1="666.55" x2="666.55" y1="230.50" y2="345.30" stroke="#ebebeb" stroke-width="1.07"/>
<ellipse cx="547.3" cy="328.4" rx="2.6" ry="2.48" fill="#FFC0CB" fill-opacity="0.8"/>
<ellipse cx="546.4" cy="325.0" rx="2.6" ry="2.48" fill="#333333" fill-opacity="0.8"/>
<ellipse cx="548.2" cy="326.1" rx="2.6" ry="2.48" fill="#F0E030" fill-opacity="0.8"/>
<ellipse cx="574.8" cy="325.7" rx="2.6" ry="2.48" fill="#FFC0CB" fill-opacity="0.8"/>
<ellipse cx="576.8" cy="324.1" rx="2.6" ry="2.48" fill="#333333" fill-opacity="0.8"/>
<ellipse cx="574.8" cy="322.5" rx="2.6" ry="2.48" fill="#F0E030" fill-opacity="0.8"/>
<ellipse cx="603.5" cy="330.7" rx="2.6" ry="2.48" fill="#640800" fill-opacity="0.8"/>
<ellipse cx="609.4" cy="329.3" rx="2.6" ry="2.48" fill="#333333" fill-opacity="0.8"/>
<ellipse cx="606.2" cy="327.8" rx="2.6" ry="2.48" fill="#F0E030" fill-opacity="0.8"/>
<ellipse cx="603.7" cy="326.1" rx="2.6" ry="2.48" fill="#8B478F" fill-opacity="0.8"/>
<ellipse cx="607.5" cy="333.4" rx="2.6" ry="2.48" fill="#009E73" fill-opacity="0.8"/>
<ellipse cx="637.3" cy="327.6" rx="2.6" ry="2.48" fill="#333333" fill-opacity="0.8"/>
<ellipse cx="634.7" cy="329.7" rx="2.6" ry="2.48" fill="#F0E030" fill-opacity="0.8"/>
<ellipse cx="633.8" cy="327.5" rx="2.6" ry="2.48" fill="#8B478F" fill-opacity="0.8"/>
<ellipse cx="635.6" cy="333.7" rx="2.6" ry="2.48" fill="#009E73" fill-opacity="0.8"/>
<ellipse cx="663.5" cy="324.1" rx="2.6" ry="2.48" fill="#87CEEB" fill-opacity="0.8"/>
<ellipse cx="663.5" cy="329.4" rx="2.6" ry="2.48" fill="#009E73" fill-opacity="0.8"/>
<ellipse cx="664.3" cy="325.0" rx="2.6" ry="2.48" fill="#8B478F" fill-opacity="0.8"/>
<ellipse cx="666.7" cy="324.4" rx="2.6" ry="2.48" fill="#F0E030" fill-opacity="0.8"/>
<ellipse cx="665.2" cy="328.3" rx="2.6" ry="2.48" fill="#FFA500" fill-opacity="0.8"/>
<ellipse cx="667.4" cy="326.4" rx="2.6" ry="2.48" fill="#FF0000" fill-opacity="0.8"/>
<rect x="528.50" y="230.50" width="155.60" height="114.80" fill="none" stroke="#333" stroke-width="0.75"/>
<rect x="528.50" y="211.50" width="155.60" height="19.00" fill="#d9d9d9" stroke="#333" stroke-width="0.75"/>
<text x="606.30" y="224.60" font-size="10.1" fill="#1a1a1a" text-anchor="middle">Amme−08−ORF</text>
<line x1="546.15" x2="546.15" y1="345.30" y2="348.90" stroke="#333" stroke-width="1.07"/>
<text transform="translate(546.15,359.70) scale(1.07,1)" font-size="10.2" fill="#4d4d4d" text-anchor="middle">51</text>
<line x1="576.25" x2="576.25" y1="345.30" y2="348.90" stroke="#333" stroke-width="1.07"/>
<text transform="translate(576.25,359.70) scale(1.07,1)" font-size="10.2" fill="#4d4d4d" text-anchor="middle">53</text>
<line x1="606.35" x2="606.35" y1="345.30" y2="348.90" stroke="#333" stroke-width="1.07"/>
<text transform="translate(606.35,359.70) scale(1.07,1)" font-size="10.2" fill="#4d4d4d" text-anchor="middle">56</text>
<line x1="636.45" x2="636.45" y1="345.30" y2="348.90" stroke="#333" stroke-width="1.07"/>
<text transform="translate(636.45,359.70) scale(1.07,1)" font-size="10.2" fill="#4d4d4d" text-anchor="middle">57</text>
<line x1="666.55" x2="666.55" y1="345.30" y2="348.90" stroke="#333" stroke-width="1.07"/>
<text transform="translate(666.55,359.70) scale(1.07,1)" font-size="10.2" fill="#4d4d4d" text-anchor="middle">adult</text>
</g>
<text transform="translate(362.60,374.80) scale(1.07,1)" font-size="12.0" fill="#000" text-anchor="middle">Developmental stage</text>
<text transform="translate(10.2,217.7) rotate(-90) scale(1.02,1)" font-size="12.65" fill="#000" stroke="#000" stroke-width="0.15" text-anchor="middle">FPKM (sqrt scale)</text>
<text transform="translate(134.00,29.40) scale(1.07,1)" font-size="11.9" fill="#000">part</text>
<ellipse cx="170.7" cy="10.5" rx="2.6" ry="2.48" fill="#333333" fill-opacity="0.8"/>
<text transform="translate(185.20,14.60) scale(1.07,1)" font-size="10.25" fill="#000">head</text>
<ellipse cx="170.7" cy="39.4" rx="2.6" ry="2.48" fill="#FF0000" fill-opacity="0.8"/>
<text transform="translate(185.20,43.40) scale(1.07,1)" font-size="10.25" fill="#000">heart</text>
<ellipse cx="225.2" cy="10.5" rx="2.6" ry="2.48" fill="#009E73" fill-opacity="0.8"/>
<text transform="translate(239.50,14.60) scale(1.07,1)" font-size="10.25" fill="#000">intestine</text>
<ellipse cx="225.2" cy="39.4" rx="2.6" ry="2.48" fill="#FFA500" fill-opacity="0.8"/>
<text transform="translate(239.50,43.40) scale(1.07,1)" font-size="10.25" fill="#000">liver</text>
<ellipse cx="295.2" cy="10.5" rx="2.6" ry="2.48" fill="#87CEEB" fill-opacity="0.8"/>
<text transform="translate(309.50,14.60) scale(1.07,1)" font-size="10.25" fill="#000">lungs</text>
<ellipse cx="295.2" cy="39.4" rx="2.6" ry="2.48" fill="#FFC0CB" fill-opacity="0.8"/>
<text transform="translate(309.50,37.00) scale(1.07,1)" font-size="10.25" fill="#000">middle body with</text>
<text transform="translate(309.50,49.10) scale(1.07,1)" font-size="10.25" fill="#000">abdominal organs</text>
<ellipse cx="411.7" cy="10.5" rx="2.6" ry="2.48" fill="#640800" fill-opacity="0.8"/>
<text transform="translate(426.30,8.40) scale(1.07,1)" font-size="10.25" fill="#000">abdominal organs</text>
<text transform="translate(426.30,20.20) scale(1.07,1)" font-size="10.25" fill="#000">(without spleen/intestine)</text>
<ellipse cx="411.7" cy="39.4" rx="2.6" ry="2.48" fill="#8B478F" fill-opacity="0.8"/>
<text transform="translate(426.30,43.40) scale(1.07,1)" font-size="10.25" fill="#000">spleen</text>
<ellipse cx="562.8" cy="10.5" rx="2.6" ry="2.48" fill="#F0E030" fill-opacity="0.8"/>
<text transform="translate(577.00,14.60) scale(1.07,1)" font-size="10.25" fill="#000">tail</text>
</g></svg></body></html>
